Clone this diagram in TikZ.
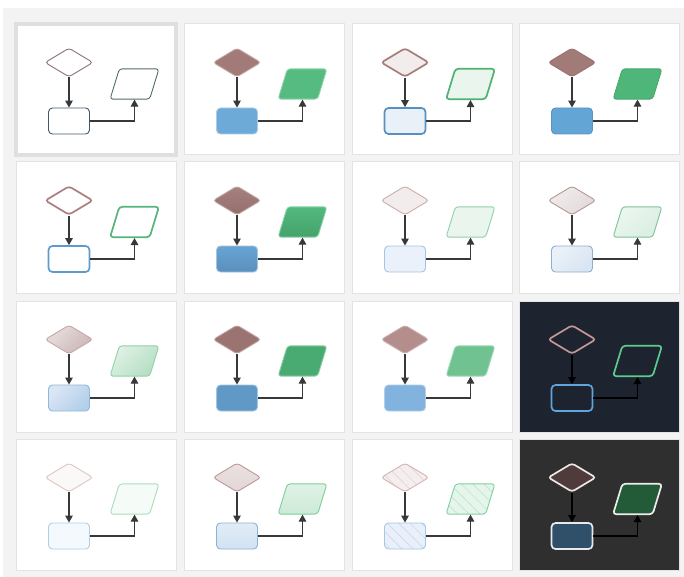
\documentclass[tikz,border=0pt]{standalone}
\usetikzlibrary{shapes.geometric,arrows.meta,patterns.meta}
\definecolor{panel}{HTML}{F3F3F3}
\definecolor{tileb}{HTML}{E3E3E3}
\definecolor{selb}{HTML}{DFDFDF}
\definecolor{linkc}{HTML}{383838}
% row 1
\definecolor{aD}{HTML}{8C7472}\definecolor{aP}{HTML}{50705C}\definecolor{aR}{HTML}{44586A}
\definecolor{bDf}{HTML}{A27B79}\definecolor{bDd}{HTML}{C3A5A3}
\definecolor{bPf}{HTML}{55BB80}\definecolor{bPd}{HTML}{8FD6AB}
\definecolor{bRf}{HTML}{6EAAD8}\definecolor{bRd}{HTML}{A9CCE9}
\definecolor{cDf}{HTML}{F2ECEC}\definecolor{cDd}{HTML}{A57D7B}
\definecolor{cPf}{HTML}{E9F5ED}\definecolor{cPd}{HTML}{4FB273}
\definecolor{cRf}{HTML}{EAF0F8}\definecolor{cRd}{HTML}{5690C2}
\definecolor{eDf}{HTML}{A27B79}\definecolor{eDd}{HTML}{977270}
\definecolor{ePf}{HTML}{4EB679}\definecolor{ePd}{HTML}{48A86F}
\definecolor{eRf}{HTML}{63A6D6}\definecolor{eRd}{HTML}{5A94C3}
% row 2
\definecolor{fD}{HTML}{AA807E}\definecolor{fP}{HTML}{55B57C}\definecolor{fR}{HTML}{5D9BCF}
\definecolor{gDt}{HTML}{A68180}\definecolor{gDb}{HTML}{936E6C}
\definecolor{gPt}{HTML}{53B97D}\definecolor{gPb}{HTML}{44A36B}
\definecolor{gRt}{HTML}{68A4D3}\definecolor{gRb}{HTML}{5A8FBC}
\definecolor{hDf}{HTML}{F2ECEC}\definecolor{hDd}{HTML}{C9AEAC}
\definecolor{hPf}{HTML}{E9F5ED}\definecolor{hPd}{HTML}{90D1A7}
\definecolor{hRf}{HTML}{EAF1FA}\definecolor{hRd}{HTML}{A5C5E2}
\definecolor{iDt}{HTML}{F1ECEC}\definecolor{iDb}{HTML}{E2D9D9}\definecolor{iDd}{HTML}{B49896}
\definecolor{iPt}{HTML}{EBF6EF}\definecolor{iPb}{HTML}{DAEEE1}\definecolor{iPd}{HTML}{7CC498}
\definecolor{iRt}{HTML}{EBF1F9}\definecolor{iRb}{HTML}{D8E5F2}\definecolor{iRd}{HTML}{90AFCB}
% row 3
\definecolor{jDt}{HTML}{E8DFDF}\definecolor{jDb}{HTML}{CBB5B5}\definecolor{jDd}{HTML}{C4A8A6}
\definecolor{jPt}{HTML}{DFF1E5}\definecolor{jPb}{HTML}{B4DEC3}\definecolor{jPd}{HTML}{8ED3A6}
\definecolor{jRt}{HTML}{DAE6F4}\definecolor{jRb}{HTML}{B3CFE9}\definecolor{jRd}{HTML}{8FB8DE}
\definecolor{kDf}{HTML}{9B7371}\definecolor{kPf}{HTML}{49AB71}\definecolor{kRf}{HTML}{6099C5}
\definecolor{kDd}{HTML}{BFA3A2}\definecolor{kPd}{HTML}{8CD0A6}\definecolor{kRd}{HTML}{A3C5E2}
\definecolor{lDf}{HTML}{B48E8C}\definecolor{lPf}{HTML}{70C391}\definecolor{lRf}{HTML}{81B3DE}
\definecolor{lDd}{HTML}{CDB3B2}\definecolor{lPd}{HTML}{9FD8B5}\definecolor{lRd}{HTML}{AFCFEA}
\definecolor{mbg}{HTML}{1E2330}
\definecolor{mD}{HTML}{C49796}\definecolor{mP}{HTML}{5CCB8B}\definecolor{mR}{HTML}{5EA6DC}
% row 4
\definecolor{nDf}{HTML}{FBF8F8}\definecolor{nDd}{HTML}{DDC6C5}
\definecolor{nPf}{HTML}{F5FBF7}\definecolor{nPd}{HTML}{A8DFBB}
\definecolor{nRf}{HTML}{F4F9FD}\definecolor{nRd}{HTML}{ACD0EA}
\definecolor{oDt}{HTML}{ECE2E2}\definecolor{oDm}{HTML}{D6C3C3}\definecolor{oDb}{HTML}{E2D5D5}\definecolor{oDd}{HTML}{B89A98}
\definecolor{oPt}{HTML}{E0F2E6}\definecolor{oPm}{HTML}{BCE2C9}\definecolor{oPb}{HTML}{CDEAD7}\definecolor{oPd}{HTML}{7FCC9B}
\definecolor{oRt}{HTML}{E2ECF7}\definecolor{oRm}{HTML}{C3D7EC}\definecolor{oRb}{HTML}{D2E2F2}\definecolor{oRd}{HTML}{8CB3D6}
\definecolor{pDf}{HTML}{F4EEEE}\definecolor{pDl}{HTML}{DFCFCE}\definecolor{pDd}{HTML}{D4B4B2}
\definecolor{pPf}{HTML}{E6F5EB}\definecolor{pPl}{HTML}{B5E2C4}\definecolor{pPd}{HTML}{7ED19F}
\definecolor{pRf}{HTML}{EAF0F9}\definecolor{pRl}{HTML}{C3D4E8}\definecolor{pRd}{HTML}{A3C8E8}
\definecolor{qbg}{HTML}{2F2F2F}
\definecolor{qDf}{HTML}{4F3B3B}\definecolor{qPf}{HTML}{235A37}\definecolor{qRf}{HTML}{2F5068}
\definecolor{qD}{HTML}{ECE6E6}\definecolor{qP}{HTML}{EBEEEB}\definecolor{qR}{HTML}{E6EAEE}
\newcommand\drawtile[8]{%
  \path[tilebg,#4] (#1,#2) rectangle ++(160,131);
  \node[dia,#5] (d#3) at (#1+53,#2+38.5) {};
  \node[para,#6] (p#3) at (#1+118.5,#2+60) {};
  \node[rbox,#7] (r#3) at (#1+53,#2+97) {};
  \draw[link,#8] (d#3) -- (r#3);
  \draw[link,#8] (r#3) -| (p#3);
}
\begin{document}
\begin{tikzpicture}[x=1pt,y=-1pt,
  dia/.style={diamond,aspect=1.655,minimum width=48pt,minimum height=29pt,inner sep=1pt,rounded corners=3pt},
  para/.style={trapezium,trapezium left angle=73,trapezium right angle=107,minimum width=49pt,minimum height=26pt,inner sep=1pt,rounded corners=3pt},
  rbox/.style={rectangle,minimum width=41pt,minimum height=26pt,inner sep=1pt,rounded corners=4pt},
  link/.style={draw=linkc,line width=1.2pt,-{Triangle[length=7pt,width=7.5pt]}},
  tilebg/.style={fill=white,draw=tileb,line width=1pt},
  thin/.style={line width=0.9pt},
  thick/.style={line width=1.7pt},
  hatch/.style 2 args={preaction={fill=#1},pattern={Lines[angle=-45,distance=8pt,line width=0.5pt]},pattern color=#2}]
\useasboundingbox (0,0) rectangle (684,577);
\fill[white] (0,0) rectangle (684,577);
\fill[panel] (3,8) rectangle (684,577);
% row 1
\drawtile{16}{24}{11}{draw=selb,line width=3.5pt}
  {fill=white,draw=aD,thin}{fill=white,draw=aP,thin}{fill=white,draw=aR,thin}{}
\drawtile{184}{24}{12}{}
  {fill=bDf,draw=bDd,thin}{fill=bPf,draw=bPd,thin}{fill=bRf,draw=bRd,thin}{}
\drawtile{352}{24}{13}{}
  {fill=cDf,draw=cDd,thick}{fill=cPf,draw=cPd,thick}{fill=cRf,draw=cRd,thick}{}
\drawtile{519}{24}{14}{}
  {fill=eDf,draw=eDd,thin}{fill=ePf,draw=ePd,thin}{fill=eRf,draw=eRd,thin}{}
% row 2
\drawtile{16}{162}{21}{}
  {fill=white,draw=fD,thick}{fill=white,draw=fP,thick}{fill=white,draw=fR,thick}{}
\drawtile{184}{162}{22}{}
  {top color=gDt,bottom color=gDb,draw=kDd,thin}{top color=gPt,bottom color=gPb,draw=kPd,thin}{top color=gRt,bottom color=gRb,draw=kRd,thin}{}
\drawtile{352}{162}{23}{}
  {fill=hDf,draw=hDd,thin}{fill=hPf,draw=hPd,thin}{fill=hRf,draw=hRd,thin}{}
\drawtile{519}{162}{24}{}
  {top color=iDt,bottom color=iDb,shading angle=45,draw=iDd,thin}{top color=iPt,bottom color=iPb,shading angle=45,draw=iPd,thin}{top color=iRt,bottom color=iRb,shading angle=45,draw=iRd,thin}{}
% row 3
\drawtile{16}{301}{31}{}
  {top color=jDt,bottom color=jDb,shading angle=45,draw=jDd,thin}{top color=jPt,bottom color=jPb,shading angle=45,draw=jPd,thin}{top color=jRt,bottom color=jRb,shading angle=45,draw=jRd,thin}{}
\drawtile{184}{301}{32}{}
  {fill=kDf,draw=kDd,thin}{fill=kPf,draw=kPd,thin}{fill=kRf,draw=kRd,thin}{}
\drawtile{352}{301}{33}{}
  {fill=lDf,draw=lDd,thin}{fill=lPf,draw=lPd,thin}{fill=lRf,draw=lRd,thin}{}
\drawtile{519}{301}{34}{fill=mbg}
  {draw=mD,thick}{draw=mP,thick}{draw=mR,thick}{draw=black}
% row 4
\drawtile{16}{439}{41}{}
  {fill=nDf,draw=nDd,thin}{fill=nPf,draw=nPd,thin}{fill=nRf,draw=nRd,thin}{}
\drawtile{184}{439}{42}{}
  {top color=oDt,middle color=oDm,bottom color=oDb,draw=oDd,thin}{top color=oPt,middle color=oPm,bottom color=oPb,draw=oPd,thin}{top color=oRt,middle color=oRm,bottom color=oRb,draw=oRd,thin}{}
\drawtile{352}{439}{43}{}
  {hatch={pDf}{pDl},draw=pDd,thin}{hatch={pPf}{pPl},draw=pPd,thin}{hatch={pRf}{pRl},draw=pRd,thin}{}
\drawtile{519}{439}{44}{fill=qbg}
  {fill=qDf,draw=qD,thick}{fill=qPf,draw=qP,thick}{fill=qRf,draw=qR,thick}{draw=black}
\end{tikzpicture}
\end{document}
